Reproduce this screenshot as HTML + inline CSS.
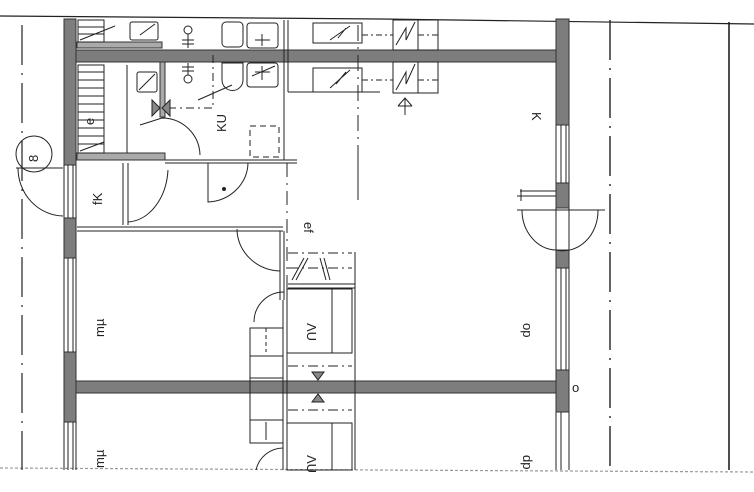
<!DOCTYPE html>
<html><head><meta charset="utf-8"><style>
html,body{margin:0;padding:0;background:#fff;width:754px;height:492px;overflow:hidden}
svg{display:block}
text{font-family:"Liberation Sans",sans-serif;fill:#222;font-size:13px}
</style></head><body>
<svg width="754" height="492" viewBox="0 0 754 492" xmlns="http://www.w3.org/2000/svg">
<g stroke="#222" stroke-width="1.2" fill="none">
<path d="M0 16 L380 19 L754 24"/>
<path d="M0 468 L754 472" stroke="#999" stroke-dasharray="3 2"/>
<line x1="22" y1="25" x2="22" y2="470" stroke-dasharray="40 8 2 8"/>
<line x1="610" y1="20" x2="610" y2="470" stroke-dasharray="40 8 2 8" stroke-width="1.4"/>
<line x1="729" y1="22" x2="729" y2="470" stroke-width="1.6"/>
</g>
<g fill="#7d7d7d" stroke="#333" stroke-width="1">
<rect x="64" y="19" width="12" height="146"/>
<rect x="64" y="218" width="12" height="40"/>
<rect x="64" y="352" width="12" height="70"/>
<rect x="76" y="50" width="480" height="12"/>
<rect x="76" y="381" width="480" height="12"/>
<rect x="556" y="19" width="13" height="106"/>
<rect x="556" y="183" width="13" height="25"/>
<rect x="556" y="250" width="13" height="18"/>
<rect x="556" y="370" width="13" height="42"/>
<rect x="77" y="153" width="88" height="7" fill="#aaa"/>
<rect x="77" y="42" width="85" height="6" fill="#aaa"/>
<rect x="160" y="62" width="5" height="55" fill="#aaa"/>
</g>
<g stroke="#222" stroke-width="1" fill="none">
<path d="M64 165V218M68 165V218M73 165V218M76 165V218"/>
<path d="M64 258V352M68 258V352M73 258V352M76 258V352"/>
<path d="M64 422V470M68 422V470M73 422V470M76 422V470"/>
<path d="M556 125V183M561 125V183M566 125V183M569 125V183"/>
<path d="M556 208V250M569 208V250"/>
<path d="M556 268V370M561 268V370M566 268V370M569 268V370"/>
<path d="M556 412V470M561 412V470M569 412V470"/>
<rect x="78" y="20" width="26" height="22"/>
<rect x="78" y="65" width="26" height="88"/>
<path d="M78 27H104M78 34H104M78 72H104M78 80H104M78 88H104M78 96H104M78 104H104M78 112H104M78 120H104M78 128H104M78 136H104M78 144H104"/>
<path d="M80 40L115 26M80 151L104 142"/>
<line x1="127" y1="65" x2="127" y2="153"/>
<rect x="130" y="22" width="28" height="18" rx="2"/><path d="M140 35L155 24"/>
<rect x="137" y="72" width="20" height="20" rx="2"/><path d="M139 90L155 74"/>
<circle cx="188" cy="30" r="4"/><path d="M188 34V48M182 40H194M182 44H194"/>
<circle cx="188" cy="79" r="4"/><path d="M188 75V63M182 67H194M182 71H194"/>
<rect x="222" y="22" width="21" height="25" rx="4"/>
<path d="M222 63H243V80A10 10 0 0 1 222 80Z"/><path d="M198 100L232 85"/>
<rect x="247" y="23" width="31" height="25" rx="3"/><path d="M255 40H270M262 34V46"/>
<rect x="247" y="63" width="31" height="24" rx="3"/><path d="M252 76L275 66M255 72H270M262 66V80"/>
<path d="M168 108H213V55" stroke-dasharray="8 4 2 4"/>
<path d="M152 100L160 108L152 116ZM170 100L162 108L170 116Z" fill="#888"/>
<path d="M140 125L162 118A38 38 0 0 1 200 155"/>
<rect x="250" y="126" width="29" height="31" stroke-dasharray="6 4"/>
<path d="M284 20V160M288 20V92M288 92H380"/>
<path d="M165 160H297M165 163H297"/>
<path d="M123 163V225M128 163V225"/>
<path d="M168 170A42 56 0 0 1 128 222"/>
<path d="M208 163V202A42 40 0 0 0 248 163"/>
<circle cx="224" cy="189" r="1.5" fill="#222"/>
<path d="M77 227H283M77 231H283"/>
<path d="M287 163V390" stroke-dasharray="14 6 2 6"/>
<path d="M280 231V300M284 231V300"/>
<path d="M237 229A45 42 0 0 0 280 271"/>
<path d="M288 253H352M288 268H352" stroke-dasharray="10 4 2 4"/>
<path d="M292 280L304 258M296 280L308 258M320 258L326 280M324 258L330 280"/>
<path d="M288 284H355M288 288H355M355 252V470M358 145V200"/>
<path d="M284 292A30 30 0 0 0 254 322"/>
<rect x="287" y="289" width="65" height="64"/><path d="M332 289V353"/>
<rect x="250" y="328" width="33" height="28"/><path d="M266 328V352" stroke-dasharray="4 3"/>
<path d="M250 356V443H283M250 378H283M250 420H283M266 422V440" />
<path d="M283 300V470M287 300V470"/>
<path d="M288 366H352M288 410H352" stroke-dasharray="10 4 2 4"/>
<path d="M312 372H324L318 380ZM312 402H324L318 394Z" fill="#888"/>
<rect x="287" y="423" width="65" height="47"/><path d="M332 423V470"/>
<path d="M283 448A28 28 0 0 0 256 470"/>
<path d="M63 168H16"/>
<path d="M18 168A46 48 0 0 0 63 216"/>
<ellipse cx="34" cy="154" rx="18" ry="18"/>
<rect x="313" y="23" width="49" height="20"/><rect x="313" y="68" width="49" height="24"/>
<path d="M330 40L350 26M330 88L350 70M338 38L346 28M336 84L346 72"/>
<rect x="393" y="20" width="25" height="30"/><rect x="418" y="20" width="20" height="30"/>
<rect x="393" y="62" width="25" height="31"/><rect x="418" y="62" width="20" height="31"/>
<path d="M396 45L406 28V40L415 22M396 90L406 72V84L415 64"/>
<path d="M362 35H393M362 80H393M418 35H438M418 80H438" stroke-dasharray="6 3 2 3"/>
<path d="M358 25V200" stroke-dasharray="16 6 2 6"/>
<path d="M405 98V115M398 106L405 98L412 106M398 106H412"/>
<path d="M517 196H556M520 191H556M521 189V201"/>
<path d="M517 210H605M522 210A35 40 0 0 0 556 250A35 40 0 0 0 598 210"/>
</g>
<g>
<text transform="translate(226,132) rotate(-90)">KU</text>
<text transform="translate(102,205) rotate(-90)">fK</text>
<text transform="translate(38,162) rotate(-90)">8</text>
<text transform="translate(304,222) rotate(90)">ef</text>
<text transform="translate(532,112) rotate(90)" font-size="12">K</text>
<text transform="translate(104,337) rotate(-90)">mµ</text>
<text transform="translate(104,468) rotate(-90)">mµ</text>
<text transform="translate(307,323) rotate(90)" font-size="12">ΛU</text>
<text transform="translate(307,455) rotate(90)" font-size="12">ΛU</text>
<text transform="translate(523,323) rotate(90)">op</text>
<text transform="translate(523,455) rotate(90)">dp</text>
<text transform="translate(94,125) rotate(-90)" font-size="9">e</text>
<text x="572" y="392" font-size="11">o</text>
</g>
</svg>
</body></html>
